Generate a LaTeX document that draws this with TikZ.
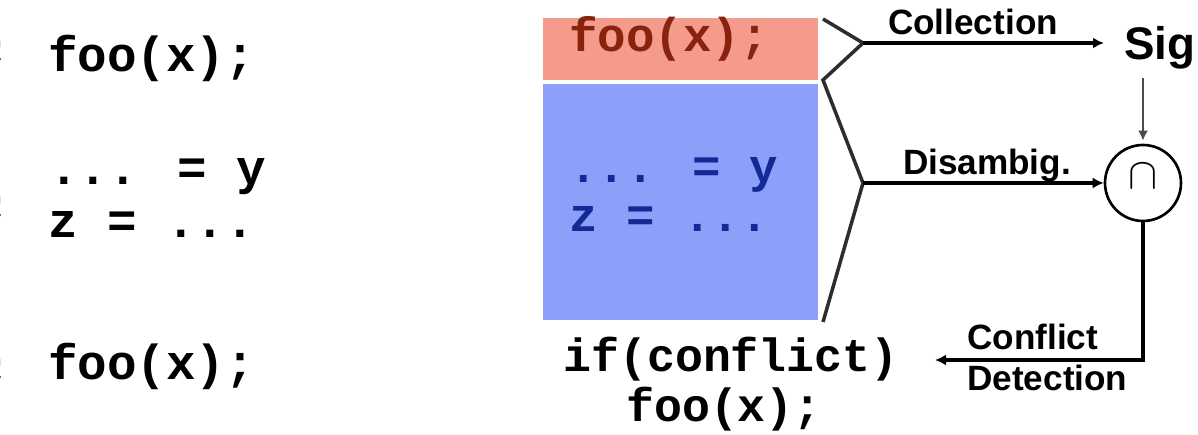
\documentclass[tikz,border=0pt]{standalone}
\usepackage{fontspec}
\usetikzlibrary{arrows.meta, positioning, calc}
\newfontfamily\codefont{Liberation Mono}
\newfontfamily\labfont{Liberation Sans}
\definecolor{callred}{RGB}{245, 155, 140}
\definecolor{bodyblue}{RGB}{140, 160, 250}
\definecolor{calltext}{RGB}{135, 35, 15}
\definecolor{bodytext}{RGB}{20, 40, 150}
\definecolor{bracketgray}{RGB}{45, 45, 45}

\begin{document}
\begin{tikzpicture}[x=0.02cm, y=-0.02cm,
    code/.style={font=\codefont\bfseries\fontsize{28}{30}\selectfont, inner sep=0, anchor=base west},
    boxcode/.style={font=\codefont\bfseries\fontsize{27}{30}\selectfont, inner sep=0, anchor=base west},
    lab/.style={font=\labfont\bfseries\fontsize{20}{23}\selectfont, inner sep=0},
    flow/.style={-{Latex[length=2.2mm, width=2.2mm]}, line width=1.8pt},
    codebox/.style={minimum width=5.5cm, inner sep=0, anchor=north west}]
  \useasboundingbox (0,0) rectangle (1198,435);

  % Original code (left column, cut off at the page edge)
  \node[code, font=\codefont\bfseries\fontsize{26}{26}\selectfont] (cutA) at (-17, 66) {;};
  \node[code, font=\codefont\bfseries\fontsize{26}{26}\selectfont] (cutB) at (-17, 222) {;};
  \node[code, font=\codefont\bfseries\fontsize{26}{26}\selectfont] (cutC) at (-17, 384) {;};
  \node[code] (lfoo) at (48, 72) {foo(x);};
  \node[code] (lmidA) at (49, 185) {... = y};
  \node[code] (lmidB) at (48, 238) {z = ...};
  \node[code] (lfooB) at (48, 380) {foo(x);};

  % Split program
  \node[codebox, fill=callred, minimum height=1.24cm] (callbox) at (543, 18) {};
  \node[codebox, fill=bodyblue, minimum height=4.72cm] (bodybox) at (543, 84) {};
  \node[boxcode, text=calltext] (callcode) at (569, 52) {foo(x);};
  \node[boxcode, text=bodytext] (bodyA) at (569, 183) {... = y};
  \node[boxcode, text=bodytext] (bodyB) at (569, 232) {z = ...};

  % Bracket joining the two parts
  \coordinate (b1) at (823, 19);
  \coordinate (callsplit) at (863, 43);
  \coordinate (b2) at (823, 80);
  \coordinate (bodysplit) at (863, 183);
  \coordinate (b3) at (823, 322);
  \draw[bracketgray, line width=2pt, line join=miter] (b1) -- (callsplit) -- (b2) -- (bodysplit) -- (b3);

  % Signature and intersection
  \node[font=\labfont\bfseries\fontsize{26}{26}\selectfont, inner sep=0, anchor=base west] (sig) at (1124, 60) {Sig};
  \node[draw, circle, line width=1.5pt, minimum size=1.52cm, inner sep=0] (cap) at (1143, 183)
    {\fontsize{38}{38}\selectfont\raisebox{0.28cm}{$\cap$}};

  \draw[flow, shorten >=0.4cm] (callsplit) -- (callsplit -| sig.west);
  \node[lab, anchor=base] (collectlab) at (973, 35) {Collection};
  \draw[flow] (bodysplit) -- (cap.west);
  \node[lab, anchor=base] (disamblab) at (987, 175) {Disambig.};
  \draw[-{Latex[length=2mm, width=2mm]}, line width=1.4pt, black!70, shorten <=0.16cm, shorten >=0.06cm]
    (sig.south -| cap.north) -- (cap.north);

  % Conflict check
  \coordinate (detectend) at (935, 360);
  \draw[flow] (cap.south) |- (detectend);
  \node[lab, align=left, anchor=north west] (detectlab) at (967, 324) {Conflict\\Detection};
  \node[code, font=\codefont\bfseries\fontsize{26.5}{30}\selectfont, anchor=base] (ifline) at (731, 372) {if(conflict)};
  \node[code, font=\codefont\bfseries\fontsize{26.5}{30}\selectfont, anchor=base] (iffoo) at (724, 422) {foo(x);};
\end{tikzpicture}
\end{document}
